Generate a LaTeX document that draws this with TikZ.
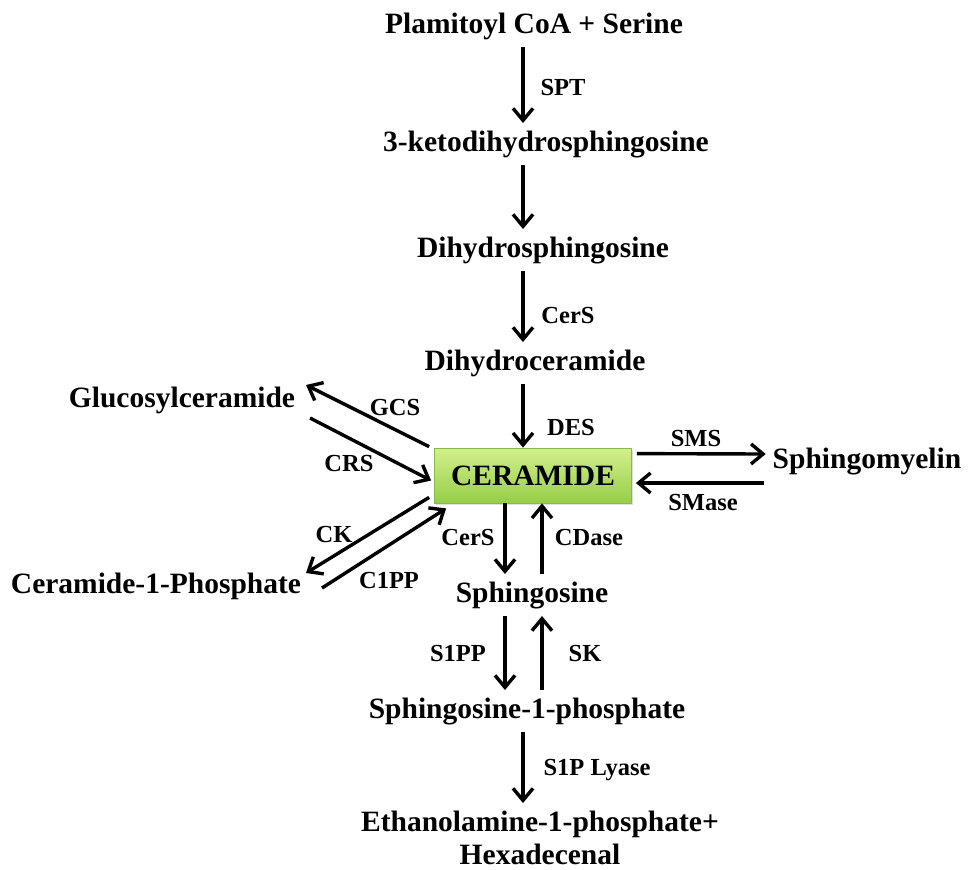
\documentclass[tikz,border=0pt]{standalone}
\usepackage{fontspec}
\setmainfont{Liberation Serif}
\usetikzlibrary{arrows.meta, shadows}
\definecolor{limetop}{RGB}{210, 240, 140}
\definecolor{limebot}{RGB}{150, 206, 72}
\definecolor{limeline}{RGB}{135, 186, 75}

\begin{document}
\begin{tikzpicture}[x=0.5pt, y=-0.5pt, thick,
    chem/.style={font=\fontsize{14.75}{16}\selectfont\bfseries, inner sep=0pt, outer sep=4pt,
                 text height=10pt, text depth=3pt, anchor=base},
    enz/.style={font=\fontsize{12.25}{13}\selectfont\bfseries, inner sep=0pt, anchor=base},
    hub/.style={rectangle, draw=limeline, line width=0.4pt, top color=limetop, bottom color=limebot,
                minimum width=98.5pt, minimum height=27.5pt, inner sep=0pt,
                font=\fontsize{14.75}{16}\selectfont\bfseries,
                drop shadow={opacity=0.25, shadow xshift=0.8pt, shadow yshift=-0.8pt}},
    arr/.style={-{Straight Barb[length=6pt, width=10pt]}, line width=1.7pt}]
  \useasboundingbox (0, 0) rectangle (968, 869);

  \coordinate (spine) at (523, 0);
  \coordinate (down) at (505, 0);
  \coordinate (up) at (542, 0);

  \node[chem] (palm) at (534, 33) { Plamitoyl CoA + Serine };
  \node[chem] (keto) at (546, 151) { 3-ketodihydrosphingosine };
  \node[chem] (dhs) at (543, 257) { Dihydrosphingosine };
  \node[chem] (dhc) at (535, 370) { Dihydroceramide };
  \node[hub] (cer) at (533, 475.5) { CERAMIDE };
  \node[chem] (gluc) at (182, 407) { Glucosylceramide };
  \node[chem] (c1p) at (156, 593) { Ceramide-1-Phosphate };
  \node[chem] (sm) at (867, 468) { Sphingomyelin };
  \node[chem] (sph) at (532, 602) { Sphingosine };
  \node[chem] (s1p) at (527, 718) { Sphingosine-1-phosphate };
  \node[chem, font=\fontsize{14.75}{16.5}\selectfont\bfseries, align=center, anchor=north,
        text height=, text depth=] (eth) at (540, 803)
    { Ethanolamine-1-phosphate+\\Hexadecenal };

  \node[enz] (spt) at (563, 95) { SPT };
  \node[enz] (cers1) at (568, 323) { CerS };
  \node[enz] (des) at (571, 435) { DES };
  \node[enz] (gcs) at (395, 415) { GCS };
  \node[enz] (crs) at (349, 471) { CRS };
  \node[enz] (ck) at (334, 542) { CK };
  \node[enz] (c1pp) at (389, 588) { C1PP };
  \node[enz] (cers2) at (468, 545) { CerS };
  \node[enz] (cdase) at (589, 545) { CDase };
  \node[enz] (sms) at (696, 446) { SMS };
  \node[enz] (smase) at (703, 510) { SMase };
  \node[enz] (s1pp) at (458, 661) { S1PP };
  \node[enz] (sk) at (585, 661) { SK };
  \node[enz] (lyase) at (597, 775) { S1P Lyase };

  %

  \draw[arr] (palm.south -| spine) -- (keto.north -| spine);
  \draw[arr] (keto.south -| spine) -- (dhs.north -| spine);
  \draw[arr] (dhs.south -| spine) -- (dhc.north -| spine);
  \draw[arr] (dhc.south -| spine) -- (cer.north -| spine);

  \draw[arr] ([shift={(-5, -1)}]cer.north west) -- ([shift={(3, 6)}]gluc.north east);
  \draw[arr] ([shift={(7, -3)}]gluc.south east) -- ([shift={(-3, 5)}]cer.west);
  \draw[arr] ([shift={(-5, -6)}]cer.south west) -- ([shift={(-3, 8)}]c1p.north east);
  \draw[arr] ([shift={(13, 2)}]c1p.east) -- ([shift={(12, 5)}]cer.south west);

  \draw[arr] ([shift={(5, 6)}]cer.north east) -- ([shift={(1, -7)}]sm.west);
  \draw[arr] ([shift={(-1, 22)}]sm.west) -- ([shift={(4, 7.5)}]cer.east);

  \draw[arr] (cer.south -| down) -- (sph.north -| down);
  \draw[arr] (sph.north -| up) -- (cer.south -| up);
  \draw[arr] (sph.south -| down) -- (s1p.north -| down);
  \draw[arr] (s1p.north -| up) -- (sph.south -| up);
  \draw[arr] (s1p.south -| spine) -- (eth.north -| spine);
\end{tikzpicture}
\end{document}
